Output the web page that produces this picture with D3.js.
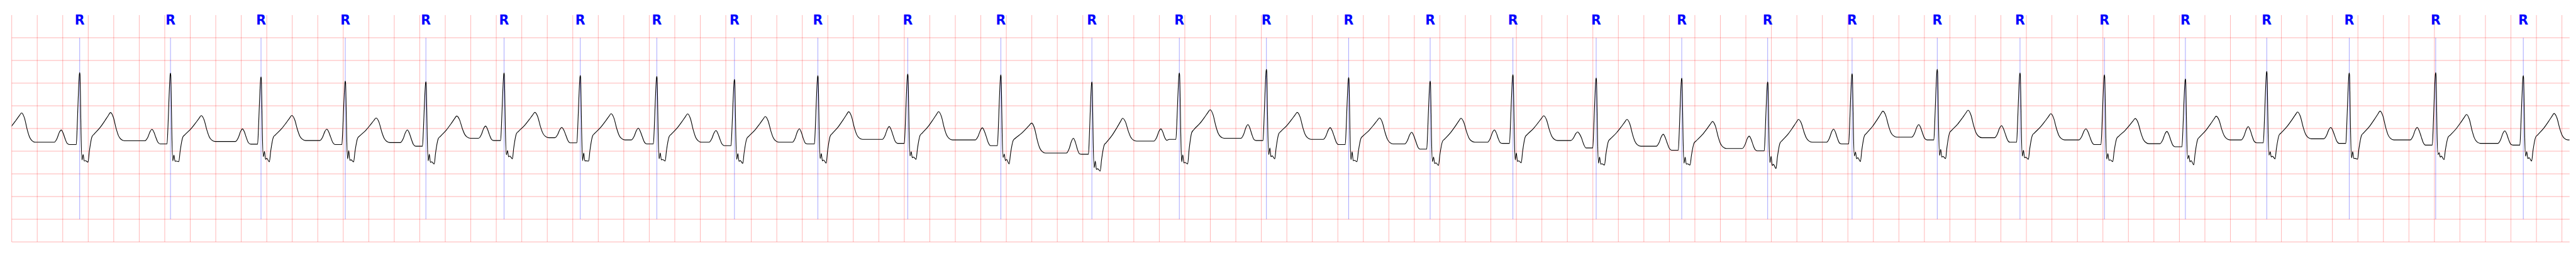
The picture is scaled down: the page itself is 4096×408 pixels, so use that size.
<!DOCTYPE html>
<html><head><meta charset="utf-8">
<script src="https://cdn.jsdelivr.net/npm/d3@7"></script>
<style>html,body{margin:0;padding:0;background:#fff;overflow:hidden}</style>
</head><body>
<svg id="c" width="4096" height="408"></svg>
<script>
// ---- data (time in s, amplitude in mV) ----
const rTimes = [0.533,1.245,1.955,2.616,3.248,3.861,4.459,5.059,5.668,6.322,7.027,7.757,8.471,9.157,9.840,10.485,11.124,11.773,12.426,13.097,13.771,14.433,15.101,15.750,16.412,17.047,17.685,18.332,19.010,19.697];
const rAmps = [1.732,1.720,1.637,1.543,1.531,1.725,1.669,1.649,1.581,1.664,1.702,1.682,1.526,1.725,1.803,1.624,1.543,1.687,1.614,1.611,1.526,1.707,1.803,1.725,1.682,1.594,1.758,1.725,1.732,1.664];
const sFirst = [-0.193,-0.213,-0.122,-0.168,-0.213,-0.080,-0.211,-0.168,-0.180,-0.163,-0.105,-0.137,-0.364,-0.236,-0.075,-0.188,-0.231,-0.193,-0.264,-0.264,-0.251,-0.105,-0.097,-0.110,-0.173,-0.168,-0.088,-0.149,-0.075,-0.110];
const sNotch = [-0.075,-0.088,-0.004,0.013,-0.067,0.013,-0.037,-0.037,-0.054,-0.054,-0.012,-0.062,-0.218,-0.080,0.071,-0.012,-0.130,-0.037,-0.130,-0.132,-0.110,-0.017,0.041,0.021,-0.054,-0.092,-0.012,-0.012,-0.032,-0.012];
const sTrough = [-0.243,-0.231,-0.236,-0.236,-0.281,-0.168,-0.218,-0.218,-0.269,-0.264,-0.180,-0.281,-0.439,-0.281,-0.168,-0.231,-0.314,-0.256,-0.306,-0.306,-0.382,-0.231,-0.163,-0.180,-0.231,-0.301,-0.168,-0.176,-0.188,-0.218];
const tPeaks = [0.852,0.784,0.788,0.733,0.776,0.856,0.826,0.822,0.763,0.869,0.871,0.620,0.726,0.914,0.856,0.733,0.726,0.781,0.701,0.655,0.701,0.884,0.902,0.826,0.720,0.773,0.864,0.884,0.809,0.831];
const leadTTime = 0.077, leadTPeak = 0.844;
const tpLevels = [0.197,0.230,0.214,0.235,0.190,0.285,0.297,0.248,0.197,0.197,0.260,0.248,-0.042,0.222,0.285,0.260,0.159,0.197,0.235,0.109,0.059,0.197,0.310,0.297,0.248,0.165,0.248,0.273,0.248,0.172,0.248];
const pPeaks = [0.467,0.482,0.492,0.486,0.469,0.554,0.524,0.507,0.454,0.494,0.544,0.516,0.285,0.492,0.587,0.519,0.416,0.469,0.424,0.373,0.331,0.486,0.587,0.562,0.494,0.436,0.542,0.524,0.524,0.448];
const prLevels = [0.146,0.159,0.154,0.146,0.109,0.235,0.184,0.159,0.122,0.159,0.172,0.122,-0.067,0.260,0.235,0.146,0.046,0.172,0.071,0.021,0.008,0.159,0.248,0.197,0.146,0.097,0.184,0.172,0.134,0.134];
const gridTimes = d3.range(0, 101).map(i => i * 0.2);
const gridLevels = [-2,-1.5,-1,-0.5,0,0.5,1,1.5,2,2.5];
const label = "R";
const tEnd = 20.06;

// ---- scales ----
const svg = d3.select("#c");
const x = d3.scaleLinear().domain([0, tEnd]).range([18.66, 4085.8]);
const y = d3.scaleLinear().domain([-2, 3]).range([384.06, 23.94]);

svg.append("rect").attr("width",4096).attr("height",408).attr("fill","#fff");
svg.append("defs").append("clipPath").attr("id","pc").append("rect")
  .attr("x",x(0)).attr("y",y(3)).attr("width",x(tEnd)-x(0)).attr("height",y(-2)-y(3));

const gridColor = "rgba(255,0,0,0.3)";
svg.append("g").selectAll("line").data(gridTimes).join("line")
  .attr("x1",d=>x(d)).attr("x2",d=>x(d)).attr("y1",y(3)).attr("y2",y(-2))
  .attr("stroke",gridColor).attr("stroke-width",0.95);
svg.append("g").selectAll("line").data(gridLevels).join("line")
  .attr("x1",x(0)).attr("x2",x(tEnd)).attr("y1",d=>y(d)).attr("y2",d=>y(d))
  .attr("stroke",gridColor).attr("stroke-width",1.0);

// R markers
svg.append("g").selectAll("line").data(rTimes).join("line")
  .attr("x1",d=>x(d)).attr("x2",d=>x(d)).attr("y1",y(2.5)).attr("y2",y(-1.5))
  .attr("stroke","rgba(0,0,255,0.55)").attr("stroke-width",0.65);

// ---- build trace ----
const pts = [];
function tWave(tr, pr, tt, tb, s2, withRise) {
  const sh = pr + 0.32 * (tt - pr);
  if (withRise) {
    pts.push([tr+0.076, s2 + 0.40*(sh-s2)]);
    pts.push([tr+0.097, s2 + 0.92*(sh-s2)]);
  }
  pts.push([tr+0.112, sh]);
  pts.push([tr+0.161, sh + 0.32*(tt-sh)]);
  pts.push([tr+0.197, sh + 0.62*(tt-sh)]);
  pts.push([tr+0.224, sh + 0.86*(tt-sh)]);
  pts.push([tr+0.2415, tt]);
  pts.push([tr+0.264, tb + 0.83*(tt-tb)]);
  pts.push([tr+0.286, tb + 0.43*(tt-tb)]);
  pts.push([tr+0.304, tb + 0.18*(tt-tb)]);
  pts.push([tr+0.322, tb + 0.06*(tt-tb)]);
  pts.push([tr+0.35, tb]);
}
tWave(leadTTime - 0.2415, tpLevels[0], leadTPeak, tpLevels[0], tpLevels[0], false);
rTimes.forEach((tr, i) => {
  const tp = tpLevels[i], p = pPeaks[i], pr = prLevels[i], r = rAmps[i];
  const s1 = sFirst[i], n = sNotch[i], s2 = sTrough[i];
  pts.push([tr-0.200, tp]);
  pts.push([tr-0.178, tp + 0.30*(p-tp)]);
  pts.push([tr-0.160, tp + 0.80*(p-tp)]);
  pts.push([tr-0.145, p]);
  pts.push([tr-0.130, tp + 0.75*(p-tp)]);
  pts.push([tr-0.115, tp + 0.30*(p-tp)]);
  pts.push([tr-0.098, (tp+pr)/2]);
  pts.push([tr-0.080, pr]);
  pts.push([tr-0.027, pr]);
  pts.push([tr-0.020, pr + 0.23*(r-pr)]);
  pts.push([tr-0.0134, pr + 0.56*(r-pr)]);
  pts.push([tr-0.0072, pr + 0.84*(r-pr)]);
  pts.push([tr-0.0025, r - 0.02*(r-pr)]);
  pts.push([tr, r]);
  pts.push([tr+0.0025, r - 0.03*(r-pr)]);
  pts.push([tr+0.0054, pr + 0.73*(r-pr)]);
  pts.push([tr+0.0107, pr + 0.15*(r-pr)]);
  pts.push([tr+0.0179, s1]);
  pts.push([tr+0.0268, n]);
  pts.push([tr+0.0358, s1 + 0.5*(s2-s1)]);
  pts.push([tr+0.045, s1 + 0.3*(s2-s1)]);
  pts.push([tr+0.0653, s2]);
  tWave(tr, pr, tPeaks[i], tpLevels[i+1], s2, true);
});
pts.push([tEnd, tpLevels[tpLevels.length-1]]);

const line = d3.line().x(d=>x(d[0])).y(d=>y(d[1])).curve(d3.curveMonotoneX);
svg.append("path").datum(pts).attr("d",line).attr("fill","none")
  .attr("stroke","#000").attr("stroke-width",1.1).attr("stroke-linejoin","round")
  .attr("clip-path","url(#pc)");

// R labels
svg.append("g").selectAll("text").data(rTimes).join("text")
  .attr("x",d=>x(d)).attr("y",y(2.79)).attr("text-anchor","middle")
  .attr("font-family","'DejaVu Sans', sans-serif").attr("font-weight","bold")
  .attr("font-size","20.5px").attr("fill","#0000ff").text(label);
</script>
</body></html>
